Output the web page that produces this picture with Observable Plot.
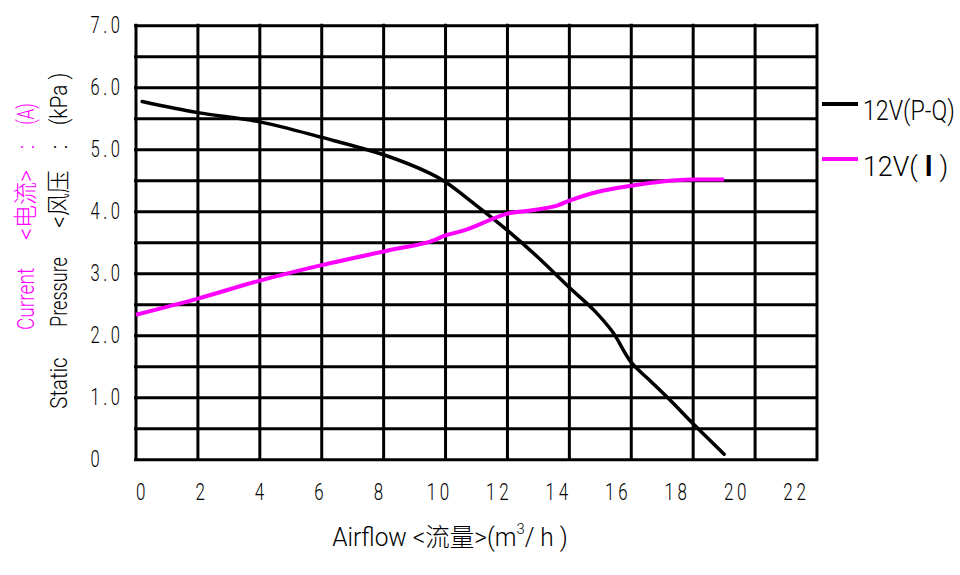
<!DOCTYPE html>
<html><head><meta charset="utf-8">
<script src="https://cdn.jsdelivr.net/npm/d3@7"></script>
<script src="https://cdn.jsdelivr.net/npm/@observablehq/plot@0.6"></script>
<style>
body{margin:0;background:#fff;}
#wrap{position:relative;width:960px;height:575px;overflow:hidden;background:#fff;}
#wrap svg{position:absolute;left:0;top:0;}
.t{position:absolute;font-family:Roboto,"Noto Sans CJK SC","DejaVu Sans",sans-serif;font-weight:300;white-space:pre;line-height:1;}
.sw{position:absolute;}
</style></head><body><div id="wrap"></div>
<script>
// ---- data ----
const xGrid = [0,2,4,6,8,10,12,14,16,18,20,22];
const yGrid = [0,0.5,1,1.5,2,2.5,3,3.5,4,4.5,5,5.5,6,6.5,7];
const yLabelTicks = [0,1,2,3,4,5,6,7];
const xLabelTicks = [0,2,4,6,8,10,12,14,16,18,20,22];

const pqFlow     = [0.2, 2, 4, 6, 8, 9.5, 10, 11, 12, 13, 14, 14.8, 15.4, 16, 16.6, 17.3, 18, 19];
const pqPressure = [5.78, 5.60, 5.45, 5.20, 4.92, 4.62, 4.48, 4.10, 3.70, 3.26, 2.78, 2.41, 2.06, 1.57, 1.28, 0.94, 0.58, 0.09];

const iFlow    = [0, 2, 4, 6, 8, 9.5, 10, 10.6, 12, 12.75, 13.6, 14, 14.9, 16, 17, 18, 19];
const iCurrent = [2.34, 2.60, 2.89, 3.14, 3.36, 3.52, 3.62, 3.70, 3.97, 4.02, 4.10, 4.18, 4.32, 4.42, 4.49, 4.52, 4.52];

const legendItems = [
  {label: "12V(P-Q)", html: "12V(P-Q)", color: "#000000"},
  {label: "12V(\uFF29)", html: '12V( <b style="font-weight:700;font-family:\'Noto Sans CJK SC\'">I</b> )', color: "#ff00ff"}
];

const pqData = pqFlow.map((f, i) => ({flow: f, value: pqPressure[i]}));
const iData  = iFlow.map((f, i) => ({flow: f, value: iCurrent[i]}));

const FONT = 'Roboto,"DejaVu Sans",sans-serif';
const wrap = document.getElementById("wrap");

const W = 960, H = 575;
const mLeft = 135.5, mRight = 816.5, mTop = 25.3, mBottom = 459.3;

const main = Plot.plot({
  width: W, height: H,
  marginLeft: mLeft, marginRight: W - mRight, marginTop: mTop, marginBottom: H - mBottom,
  x: {domain: [0, 22], axis: null},
  y: {domain: [0, 7], axis: null},
  style: {fontFamily: FONT, fontSize: "23px", fontWeight: 300, color: "#000", background: "transparent", overflow: "visible"},
  marks: [
    Plot.ruleY(yGrid, {stroke: "#000", strokeWidth: 3, strokeLinecap: "square"}),
    Plot.ruleX(xGrid, {stroke: "#000", strokeWidth: 3, strokeLinecap: "square"}),
    Plot.axisY(yLabelTicks, {
      tickSize: 0, tickPadding: 0, textAnchor: "start", dx: -45.5, label: null,
      tickFormat: d => d === 0 ? "0" : d.toFixed(1),
      fill: "#000", fontSize: 23
    }),
    Plot.line(pqData, {x: "flow", y: "value", stroke: "#000", strokeWidth: 3.5, curve: "catmull-rom", strokeLinecap: "round"}),
    Plot.line(iData, {x: "flow", y: "value", stroke: "#ff00ff", strokeWidth: 4, curve: "catmull-rom", strokeLinecap: "butt"})
  ]
});
wrap.appendChild(main);

// x tick labels as drawn in the reference (slightly compressed label axis)
const xlab = Plot.plot({
  width: W, height: H,
  marginLeft: 0, marginRight: 0, marginTop: mTop, marginBottom: H - mBottom,
  x: {domain: [0, 22], range: [142, 796]},
  style: {fontFamily: FONT, fontSize: "23px", fontWeight: 300, color: "#000", background: "transparent", overflow: "visible"},
  marks: [
    Plot.axisX(xLabelTicks, {tickSize: 0, tickPadding: 24, label: null, tickFormat: d => String(d), fill: "#000", fontSize: 23})
  ]
});
wrap.appendChild(xlab);

// narrow the tick label glyphs like the CAD font of the reference
d3.select(main).selectAll("g[aria-label='y-axis tick label'] text").each(function(){
  const t = this.getAttribute("transform") || "";
  this.setAttribute("transform", t + " scale(0.72,1)");
  this.style.letterSpacing = "5px";
});
d3.select(xlab).selectAll("g[aria-label='x-axis tick label'] text").each(function(){
  const t = this.getAttribute("transform") || "";
  this.setAttribute("transform", t + " scale(0.74,1)");
  this.style.letterSpacing = "5px";
});

// ---- text helpers ----
function addText(txt, opts) {
  const d = document.createElement("div");
  d.className = "t";
  d.textContent = txt;
  d.style.fontSize = (opts.size || 24) + "px";
  d.style.color = opts.color || "#000";
  if (opts.html) d.innerHTML = opts.html;
  wrap.appendChild(d);
  const nat = d.offsetWidth;
  const k = opts.len ? opts.len / nat : 1;
  d.style.left = opts.x + "px";
  d.style.top = opts.y + "px";
  if (opts.rot) {
    d.style.transformOrigin = "50% 50%";
    d.style.transform = `translate(-50%,-50%) rotate(-90deg) scaleX(${k})`;
  } else if (opts.anchor === "start") {
    d.style.transformOrigin = "0 50%";
    d.style.transform = `translateY(-50%) scaleX(${k})`;
  } else {
    d.style.transformOrigin = "50% 50%";
    d.style.transform = `translate(-50%,-50%) scaleX(${k})`;
  }
  return d;
}

// y axis titles (rotated)
const BLK = "#000", MAG = "#ff00ff";
addText("Static",   {x: 59, y: 382.5, len: 51, rot: true, color: BLK});
addText("Pressure", {x: 59, y: 292,   len: 70, rot: true, color: BLK});
addText("<风压",     {x: 59, y: 198.5, len: 57, rot: true, color: BLK});
addText(":",        {x: 59, y: 147,   rot: true, color: BLK});
addText("(kPa )",   {x: 59, y: 98.5,  len: 53, rot: true, color: BLK});

addText("Current",  {x: 26, y: 299, len: 62, rot: true, color: MAG});
addText("<电流>",    {x: 26, y: 205, len: 70, rot: true, color: MAG});
addText(":",        {x: 26, y: 147, rot: true, color: MAG});
addText("(A)",      {x: 26, y: 114, len: 22, rot: true, color: MAG});

// x axis title
addText("", {x: 450, y: 536, len: 235, size: 25, color: BLK,
  html: 'Airflow &lt;流量&gt;(m<span style="font-size:0.6em;vertical-align:0.75em">3</span>/ h )'});

// legend
const legY = [104, 158.5];
legendItems.forEach((it, i) => {
  const s = document.createElement("div");
  s.className = "sw";
  s.style.left = "822px"; s.style.width = "36px";
  s.style.top = (legY[i] - 2) + "px"; s.style.height = (i === 0 ? 3.5 : 4) + "px";
  s.style.background = it.color;
  wrap.appendChild(s);
  addText("", {html: it.html, x: 863, y: legY[i] + 6.5, len: i === 0 ? 92 : 85, anchor: "start", size: 28, color: "#000"});
});
</script>
</body></html>
